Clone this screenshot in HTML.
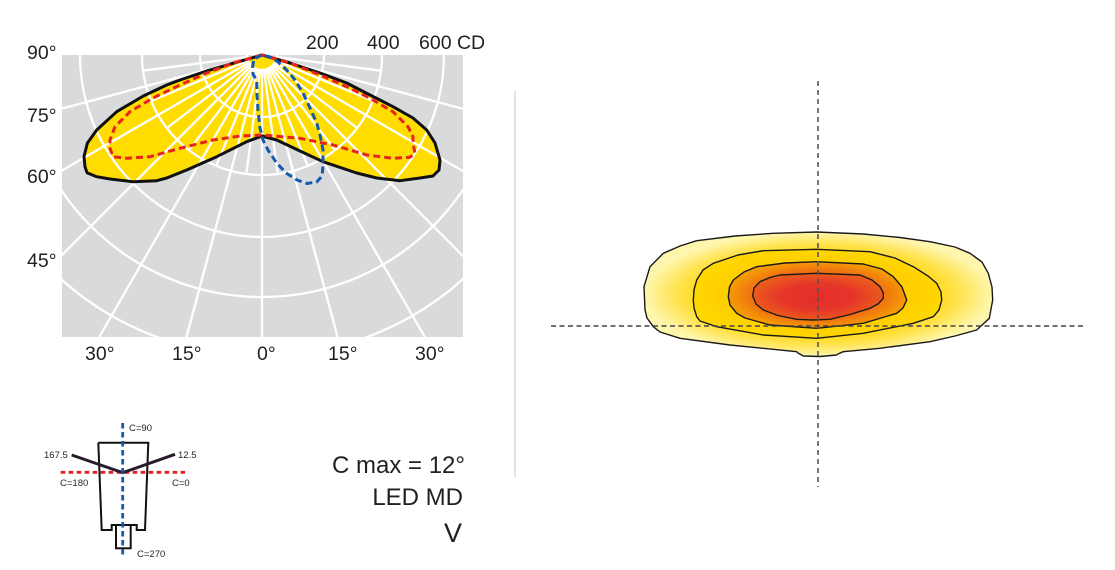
<!DOCTYPE html>
<html>
<head>
<meta charset="utf-8">
<style>
  html,body{margin:0;padding:0;background:#fff;}
  svg{display:block;}
  text{font-family:"Liberation Sans","DejaVu Sans",sans-serif;fill:#231f20;}
</style>
</head>
<body>
<svg width="1115" height="570" viewBox="0 0 1115 570" xmlns="http://www.w3.org/2000/svg">
  <defs>
    <clipPath id="rc"><rect x="62" y="55" width="401" height="282"/></clipPath>
    <radialGradient id="g1" cx="0.5" cy="0.5" r="0.5">
      <stop offset="0" stop-color="#ffd000"/>
      <stop offset="0.6" stop-color="#ffd400"/>
      <stop offset="0.82" stop-color="#ffe453"/>
      <stop offset="1" stop-color="#fff6ae"/>
    </radialGradient>
    <radialGradient id="g2" cx="0.5" cy="0.5" r="0.5">
      <stop offset="0" stop-color="#ffc800"/>
      <stop offset="0.8" stop-color="#ffd000"/>
      <stop offset="1" stop-color="#ffd700"/>
    </radialGradient>
    <radialGradient id="g3" cx="0.5" cy="0.5" r="0.5">
      <stop offset="0" stop-color="#ec5a14"/>
      <stop offset="0.7" stop-color="#ef6c12"/>
      <stop offset="1" stop-color="#f59a05"/>
    </radialGradient>
    <radialGradient id="g4" cx="0.5" cy="0.5" r="0.5">
      <stop offset="0" stop-color="#e42e29"/>
      <stop offset="0.55" stop-color="#e5352a"/>
      <stop offset="1" stop-color="#eb5a1c"/>
    </radialGradient>
  </defs>

  <!-- Polar panel -->
  <rect x="62" y="55" width="401" height="282" fill="#d9dadc"/>

  <!-- Yellow filled curve (drawn under grid lines) -->
  <polygon fill="#ffdd00" points="262,55 233,63.3 206.7,71 180,80 166.7,85 143.3,96 116.7,111.7 96.7,130 87.3,143.3 84,156.7 85,166.7 87,172.7 96.7,176.7 110,179 133,181.7 156.7,180.7 166.7,178 186.7,170 216.7,156.7 246.7,141.7 262,136 276.7,140 300,151 323,161.7 356.7,173 376.7,178 400,180.7 420,178 433,176 439,170 440,160 435,143 426.7,130 413,118 393,106.7 370,95 346.7,83 320,73 290,63"/>

  <g clip-path="url(#rc)" stroke="#fff" stroke-width="2.3" fill="none">
    <circle cx="262" cy="55" r="15"/>
    <circle cx="262" cy="55" r="62"/>
    <circle cx="262" cy="55" r="120"/>
    <circle cx="262" cy="55" r="182"/>
    <circle cx="262" cy="55" r="242"/>
    <circle cx="262" cy="55" r="301"/>
    <line x1="262" y1="70" x2="262" y2="455"/>
    <line x1="265.9" y1="69.5" x2="365.5" y2="441.4"/>
    <line x1="258.1" y1="69.5" x2="158.5" y2="441.4"/>
    <line x1="269.5" y1="68" x2="462" y2="401.4"/>
    <line x1="254.5" y1="68" x2="62" y2="401.4"/>
    <line x1="272.6" y1="65.6" x2="544.8" y2="337.8"/>
    <line x1="251.4" y1="65.6" x2="-20.8" y2="337.8"/>
    <line x1="275" y1="62.5" x2="608.4" y2="255"/>
    <line x1="249" y1="62.5" x2="-84.4" y2="255"/>
    <line x1="276.5" y1="58.9" x2="648.4" y2="158.5"/>
    <line x1="247.5" y1="58.9" x2="-124.4" y2="158.5"/>
    <line x1="264" y1="69.9" x2="277.7" y2="174"/>
    <line x1="267.7" y1="68.9" x2="307.9" y2="165.9"/>
    <line x1="271.1" y1="66.9" x2="335.1" y2="150.2"/>
    <line x1="273.9" y1="64.1" x2="357.2" y2="128.1"/>
    <line x1="275.9" y1="60.7" x2="372.9" y2="100.9"/>
    <line x1="276.9" y1="57" x2="381" y2="70.7"/>
    <line x1="260" y1="69.9" x2="246.3" y2="174"/>
    <line x1="256.3" y1="68.9" x2="216.1" y2="165.9"/>
    <line x1="252.9" y1="66.9" x2="188.9" y2="150.2"/>
    <line x1="250.1" y1="64.1" x2="166.8" y2="128.1"/>
    <line x1="248.1" y1="60.7" x2="151.1" y2="100.9"/>
    <line x1="247.1" y1="57" x2="143" y2="70.7"/>
  </g>

  <!-- Black outline -->
  <polygon fill="none" stroke="#111" stroke-width="3" stroke-linejoin="round" points="262,55 233,63.3 206.7,71 180,80 166.7,85 143.3,96 116.7,111.7 96.7,130 87.3,143.3 84,156.7 85,166.7 87,172.7 96.7,176.7 110,179 133,181.7 156.7,180.7 166.7,178 186.7,170 216.7,156.7 246.7,141.7 262,136 276.7,140 300,151 323,161.7 356.7,173 376.7,178 400,180.7 420,178 433,176 439,170 440,160 435,143 426.7,130 413,118 393,106.7 370,95 346.7,83 320,73 290,63"/>

  <!-- Red dashed -->
  <polygon fill="none" stroke="#e8231e" stroke-width="3" stroke-dasharray="7 4" stroke-linejoin="round" points="262,55 233,63 206.7,73 180,85 153,98 130,111.7 115,126.7 110,140 110,148 113,156.7 126.7,158.3 150,156.7 180,148.3 213,140 240,136 262,135 300,138.3 333,145 366.7,155 393,158.3 410,157.3 415,153 413,143.3 413,136.7 408,126.7 393,111.7 370,98.3 346.7,86.7 320,75 290,63"/>

  <!-- Blue dashed -->
  <polyline fill="none" stroke="#1559ab" stroke-width="3" stroke-dasharray="7 4" stroke-linejoin="round" points="262,55 254,59 252.7,66 253,74 256.7,81 257,95 258,110 260,128 263,140 268,150 276.7,163 286,173 297,180 307,183.5 316.7,182 322,176 323,166 323,150 320,135 316.7,123 310,108 303,93 295,80 286.7,70 278,62 270,57 262,55"/>

  <!-- Polar labels -->
  <text x="27" y="59" font-size="19.5">90°</text>
  <text x="27" y="122" font-size="19.5">75°</text>
  <text x="27" y="183" font-size="19.5">60°</text>
  <text x="27" y="267" font-size="19.5">45°</text>
  <text x="306" y="49" font-size="19.5">200</text>
  <text x="367" y="49" font-size="19.5">400</text>
  <text x="419" y="49" font-size="19.5">600 CD</text>
  <text x="85" y="360" font-size="19.5">30°</text>
  <text x="172" y="360" font-size="19.5">15°</text>
  <text x="257" y="360" font-size="19.5">0°</text>
  <text x="328" y="360" font-size="19.5">15°</text>
  <text x="415" y="360" font-size="19.5">30°</text>

  <!-- Luminaire diagram -->
  <g fill="none" stroke="#111" stroke-width="2" stroke-linejoin="miter">
    <polyline points="98.3,442.7 148.3,442.7 145,530 136.7,530 136.7,525 111.7,525 111.7,530 101.7,530 98.3,442.7"/>
    <rect x="116" y="525" width="14.7" height="23.3"/>
  </g>
  <line x1="60.7" y1="472.3" x2="185" y2="472.3" stroke="#e2211c" stroke-width="2.8" stroke-dasharray="4.5 3.5"/>
  <polyline points="71.7,455 122.7,472.7 175,454.3" fill="none" stroke="#2a1a2e" stroke-width="3"/>
  <line x1="122.7" y1="423" x2="122.7" y2="557" stroke="#1559ab" stroke-width="2.8" stroke-dasharray="5.5 3.5"/>
  <text x="129" y="431" font-size="9.5">C=90</text>
  <text x="44" y="458" font-size="9.5">167.5</text>
  <text x="178" y="458" font-size="9.5">12.5</text>
  <text x="60" y="486" font-size="9.5">C=180</text>
  <text x="172" y="486" font-size="9.5">C=0</text>
  <text x="137" y="557" font-size="9.5">C=270</text>

  <text x="465" y="473" font-size="24" text-anchor="end">C max = 12°</text>
  <text x="463" y="505" font-size="24" text-anchor="end">LED MD</text>
  <text x="462" y="542" font-size="27" text-anchor="end">V</text>

  <!-- Separator -->
  <line x1="515" y1="91" x2="515" y2="477" stroke="#dde3ea" stroke-width="2"/>

  <!-- Isolux map -->
  <g stroke="#1a1a1a" stroke-width="1.4" stroke-linejoin="round">
    <path fill="url(#g1)" d="M644,286.7 L650,266.7 L663.3,253.3 L680,246 L696.7,240.7 L735,236 L773.3,233.3 L816.7,232 L863.3,234 L900,237.5 L930,241.7 L955,247 L970,253.3 L982,262 L988.3,273.3 L992,287 L992.7,300 L989.3,318.3 L976.7,330 L955,336 L930,341.7 L880,348.3 L843.3,351.7 L838,354 L836.7,355 L820,356.5 L803.3,356 L798,353 L796.7,351.7 L730,345 L680,338.3 L660,332 L653.3,326.7 L647,318 L645,310 Z"/>
    <path fill="url(#g2)" d="M693.3,300 L694,290 L696.7,280 L703,270 L713.3,263.3 L738,255 L763.3,250.7 L816.7,249.3 L870,251.7 L895,258 L913.3,266.7 L928,276 L936.7,283.3 L941,292 L941.7,300 L939,310 L933.3,316.7 L913.3,323.3 L863.3,333.3 L816.7,338.3 L763.3,335 L716.7,326.7 L700,321 L696.7,316.7 L694,308 Z"/>
    <path fill="url(#g3)" d="M728.3,296.7 L729.5,287 L733.3,280 L744,272 L756.7,266.7 L785,263 L816.7,261.7 L863.3,264 L882,269 L893.3,276.7 L902,287 L906.7,300 L903,308 L896.7,313.3 L863.3,323.3 L816.7,328.3 L770,325 L745,318 L736.7,313.3 L730,305 Z"/>
    <path fill="url(#g4)" d="M752.7,296 L754,288 L760,281.7 L770,277.5 L780,275 L816.7,273.3 L860,275 L872,280 L880,286.7 L883.3,293 L883.3,298.3 L878,304 L870,308.3 L850,314.5 L830,319.3 L813,320 L796.7,319.3 L778,315.5 L763.3,310 L756,304 Z"/>
  </g>
  <line x1="818" y1="81" x2="818" y2="487" stroke="#555" stroke-width="1.6" stroke-dasharray="5 4"/>
  <line x1="551" y1="326" x2="1086" y2="326" stroke="#444" stroke-width="1.5" stroke-dasharray="5 3.5"/>
</svg>
</body>
</html>
